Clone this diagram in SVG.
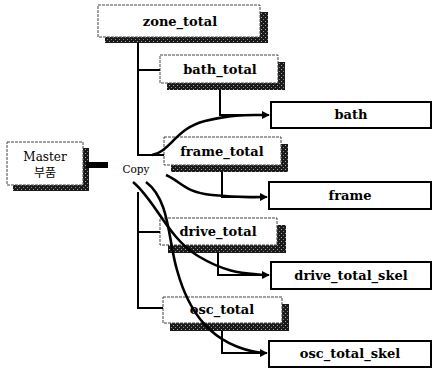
<svg xmlns="http://www.w3.org/2000/svg" width="433" height="370" viewBox="0 0 433 370">
<style>
.mid{fill:#fff;stroke:#444;stroke-width:1;stroke-dasharray:3 1}
.sh{fill:url(#dither)}
.tgt{fill:#fff;stroke:#000;stroke-width:2}
.t{font-family:'DejaVu Serif','Liberation Serif',serif;font-weight:bold;font-size:13px;fill:#000;text-anchor:middle}
.s{font-family:'DejaVu Serif','Liberation Serif',serif;fill:#000;text-anchor:middle}
.ln{fill:none;stroke:#000;stroke-width:2}
.cv{fill:none;stroke:#000;stroke-width:2.6}
</style>
<defs>
<pattern id="dither" width="4" height="4" patternUnits="userSpaceOnUse">
<rect width="4" height="4" fill="#1a1a1a"/>
<rect x="1" y="1" width="1" height="1" fill="#aaa"/>
<rect x="3" y="3" width="1" height="1" fill="#888"/>
</pattern>
<marker id="arr" viewBox="0 0 10 10" refX="9" refY="5" markerWidth="4" markerHeight="4" orient="auto" markerUnits="strokeWidth">
<path d="M0,0 L10,5 L0,10 z" fill="#000"/>
</marker>
</defs>

<g id="zone_total">
<rect class="sh" x="105" y="12" width="163" height="31"/>
<rect class="mid" x="98" y="5" width="162" height="32"/>
<text class="t" x="180" y="26" font-size="14">zone_total</text>
</g>

<g id="bath_total">
<rect class="sh" x="167" y="62" width="118" height="28"/>
<rect class="mid" x="160" y="55" width="118" height="28"/>
<text class="t" x="220" y="74">bath_total</text>
</g>

<g id="frame_total">
<rect class="sh" x="171" y="144" width="117" height="28"/>
<rect class="mid" x="164" y="137" width="117" height="28"/>
<text class="t" x="222" y="156">frame_total</text>
</g>

<g id="drive_total">
<rect class="sh" x="168" y="225" width="118" height="28"/>
<rect class="mid" x="160" y="218" width="117" height="27"/>
<text class="t" x="218" y="236">drive_total</text>
</g>

<g id="osc_total">
<rect class="sh" x="170" y="304" width="119" height="27"/>
<rect class="mid" x="163" y="297" width="119" height="26"/>
<text class="t" x="222" y="314">osc_total</text>
</g>

<g id="master">
<rect class="sh" x="13" y="148" width="76" height="43"/>
<rect class="mid" x="7" y="142" width="76" height="43"/>
<text class="s" x="45" y="161" font-size="12">Master</text>
<text x="45" y="177" font-family="'Noto Sans CJK KR',sans-serif" font-size="12" text-anchor="middle" fill="#000">부품</text>
</g>

<g id="copy">
<text class="s" x="136" y="173" font-size="10.5">Copy</text>
</g>

<g id="bath">
<rect class="tgt" x="271" y="102" width="160" height="26"/>
<text class="t" x="351" y="119">bath</text>
</g>

<g id="frame">
<rect class="tgt" x="269" y="182" width="162" height="27"/>
<text class="t" x="350" y="200">frame</text>
</g>

<g id="drive_total_skel">
<rect class="tgt" x="271" y="262" width="160" height="27"/>
<text class="t" x="351" y="280">drive_total_skel</text>
</g>

<g id="osc_total_skel">
<rect class="tgt" x="269" y="341" width="162" height="26"/>
<text class="t" x="350" y="358">osc_total_skel</text>
</g>

<g id="connectors">
<path class="ln" d="M138,43 V155 H164"/>
<path class="ln" d="M138,70 H160"/>
<path class="ln" d="M138,192 V308 H163"/>
<path class="ln" d="M138,232 H160"/>
<path class="ln" d="M220,90 V115 H269" marker-end="url(#arr)"/>
<path class="ln" d="M222,172 V197 H267" marker-end="url(#arr)"/>
<path class="ln" d="M218,253 V275 H269" marker-end="url(#arr)"/>
<path class="ln" d="M222,331 V353 H267" marker-end="url(#arr)"/>
<path class="cv" d="M152,155 C170,152 176,128 205,121 S248,115 262,115"/>
<path class="cv" d="M166,175 C182,182 184,192 212,195 S250,197 262,197"/>
<path class="cv" d="M133,182 C155,200 168,238 198,256 S245,273 264,275"/>
<path class="cv" d="M146,182 C170,200 168,240 177,270 C188,310 210,346 262,353"/>
<rect x="86" y="162" width="22" height="6" fill="#000"/>
</g>
</svg>
